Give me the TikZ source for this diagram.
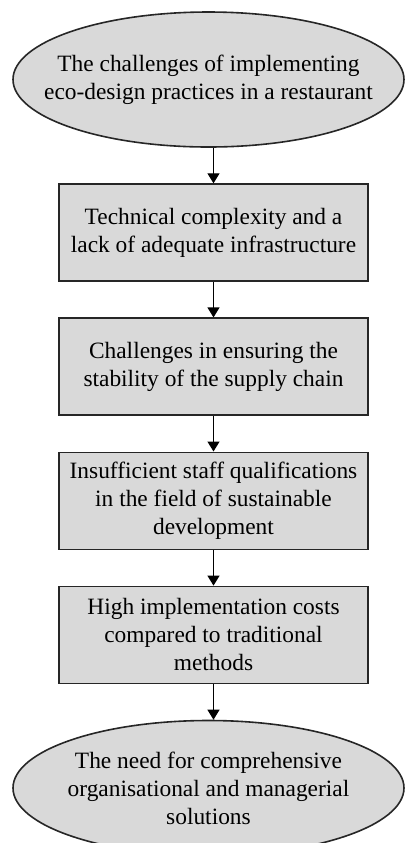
\documentclass[tikz,border=0pt]{standalone}
\usepackage{fontspec}
\setmainfont{Liberation Serif}
\usetikzlibrary{arrows.meta, positioning, shapes.geometric}

\begin{document}
\begin{tikzpicture}[
node distance=17.75pt,
box/.style={draw=black!85, line width=0.8pt, fill=gray!30, rectangle, align=center, inner sep=2pt, minimum width=154.5pt, minimum height=48.5pt, font=\fontsize{11.7}{14}\selectfont},
oval/.style={draw=black!85, line width=0.8pt, fill=gray!30, ellipse, align=center, inner xsep=-14pt, inner ysep=0pt, minimum width=195.5pt, minimum height=67.5pt, font=\fontsize{11.7}{14}\selectfont},
arrow/.style={-{Triangle[width=6pt, length=5pt]}, line width=0.6pt}
]

\useasboundingbox (0,0) rectangle (202pt,-421.5pt);

\node[oval] (challenges) at (104.25pt,-39.75pt)
{The challenges of implementing\\
eco-design practices in a restaurant};

\node[box, below=of challenges, xshift=2.5pt] (technical)
{Technical complexity and a\\
lack of adequate infrastructure};

\node[box, below=of technical] (supply)
{Challenges in ensuring the\\
stability of the supply chain};

\node[box, below=of supply] (staff)
{Insufficient staff qualifications\\
in the field of sustainable\\
development};

\node[box, below=of staff] (costs)
{High implementation costs\\
compared to traditional\\
methods};

\node[oval, below=of costs, xshift=-2.5pt] (need)
{The need for comprehensive\\
organisational and managerial\\
solutions};

\draw[arrow] (technical.north |- challenges.south) -- (technical.north);
\draw[arrow] (technical) -- (supply);
\draw[arrow] (supply) -- (staff);
\draw[arrow] (staff) -- (costs);
\draw[arrow] (costs.south) -- (costs.south |- need.north);

\end{tikzpicture}
\end{document}
